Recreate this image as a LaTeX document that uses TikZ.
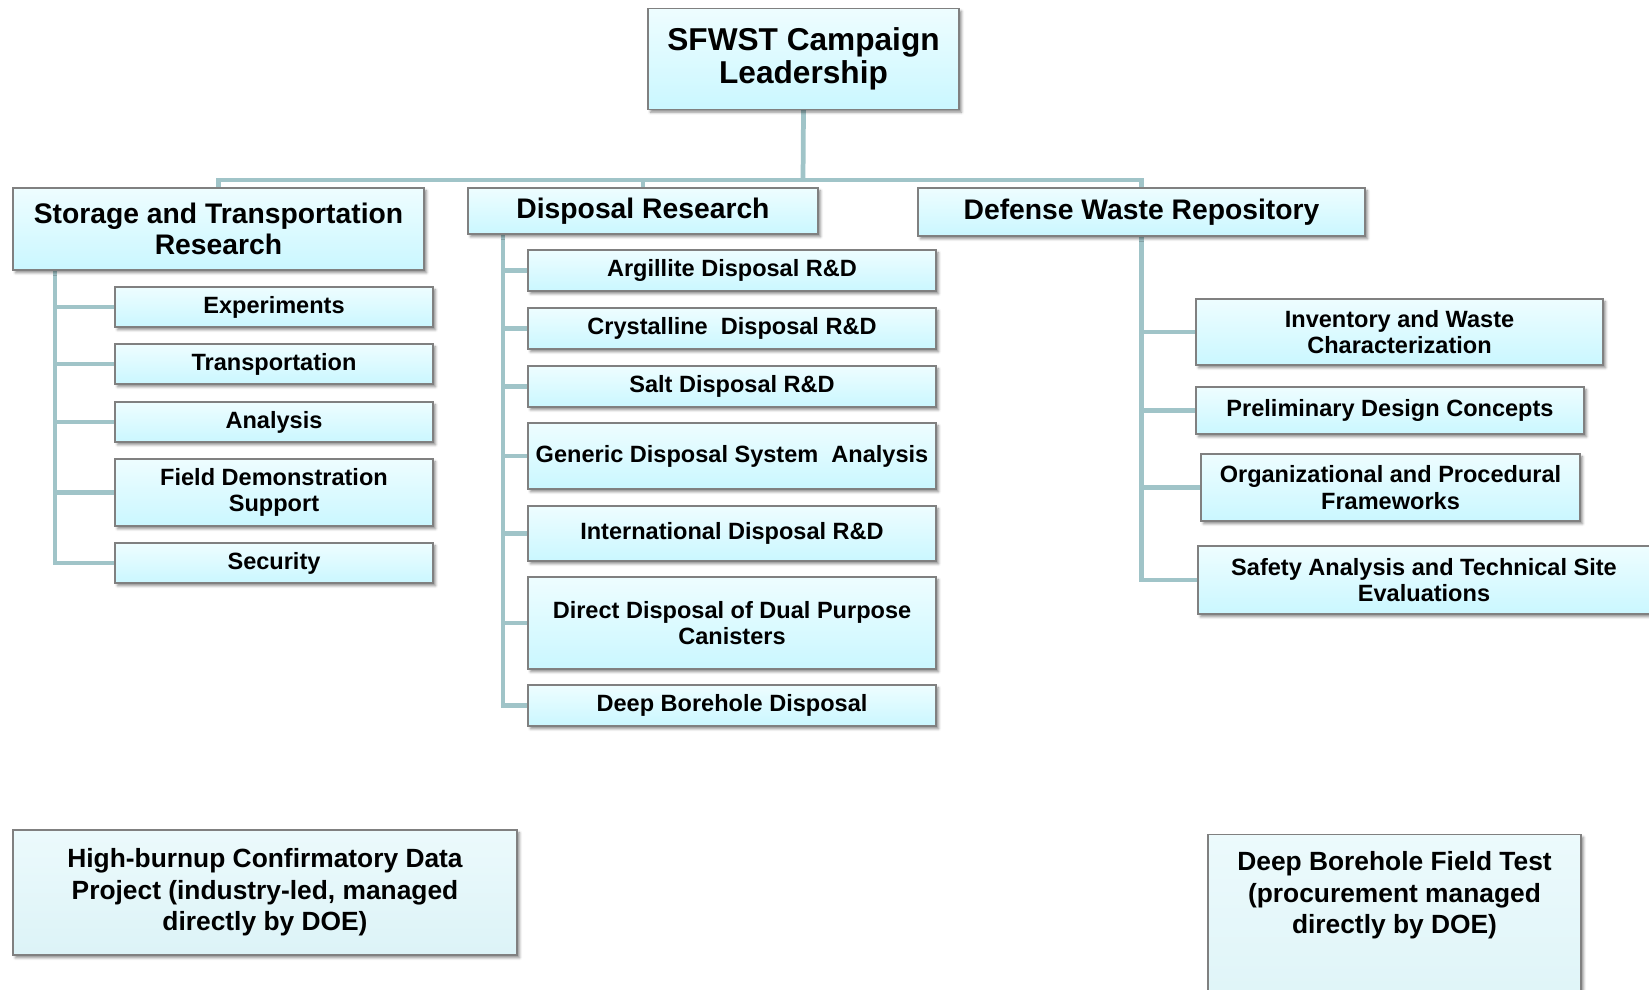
\documentclass[tikz,border=0pt]{standalone}
\usepackage{fontspec}
\setmainfont{Liberation Sans}
\usetikzlibrary{shadows.blur,backgrounds}
\definecolor{linkc}{RGB}{160,196,200}
\definecolor{boxline}{RGB}{128,128,128}
\definecolor{boxtop}{RGB}{238,253,255}
\definecolor{boxbot}{RGB}{202,247,255}
\definecolor{lowtop}{RGB}{236,250,252}
\definecolor{lowbot}{RGB}{220,243,247}

\begin{document}
\begin{tikzpicture}[x=0.02cm,y=-0.02cm,
  box/.style={draw=boxline,line width=0.6pt,top color=boxtop,bottom color=boxbot,
    align=center,inner sep=0pt,
    blur shadow={shadow xshift=1.4pt,shadow yshift=-1.6pt,shadow blur radius=1.5pt,shadow opacity=45}},
  sz/.style 2 args={minimum width=#1*0.02cm,minimum height=#2*0.02cm},
  head/.style={box,font=\fontsize{18}{19}\selectfont\bfseries},
  area/.style={box,font=\fontsize{16.1}{17.4}\selectfont\bfseries},
  item/.style={box,font=\fontsize{13.4}{15}\selectfont\bfseries},
  extra/.style={box,top color=lowtop,bottom color=lowbot,font=\fontsize{15}{18}\selectfont\bfseries},
  link/.style={draw=linkc,line width=2.7pt}]

 \useasboundingbox (0,0) rectangle (1649,990);

 % top and the three areas
 \node[head,sz={311}{101}] (lead) at (803.5,59) {SFWST Campaign\\Leadership};
 \node[area,sz={411}{82}]  (stor) at (218.5,229)  {Storage and Transportation\\Research};
 \node[area,sz={350}{46}]  (disp) at (643,211)    {Disposal Research};
 \node[area,sz={447}{48}]  (defw) at (1141.5,212) {Defense Waste Repository};

 % storage and transportation
 \node[item,sz={318}{40}] (exper) at (274,307)   {Experiments};
 \node[item,sz={318}{40}] (trans) at (274,364)   {Transportation};
 \node[item,sz={318}{40}] (anal)  at (274,422)   {Analysis};
 \node[item,sz={318}{67}] (field) at (274,492.5) {Field Demonstration\\Support};
 \node[item,sz={318}{40}] (secur) at (274,563)   {Security};

 % disposal research
 \node[item,sz={408}{41}] (argil) at (732,270.5) {Argillite Disposal R\&D};
 \node[item,sz={408}{41}] (cryst) at (732,328.5) {Crystalline\ \ Disposal R\&D};
 \node[item,sz={408}{41}] (salt)  at (732,386.5) {Salt Disposal R\&D};
 \node[item,sz={408}{66}] (gener) at (732,456)   {Generic Disposal System\ \ Analysis};
 \node[item,sz={408}{55}] (intl)  at (732,533.5) {International Disposal R\&D};
 \node[item,sz={408}{92}] (dualp) at (732,623)   {Direct Disposal of Dual Purpose\\Canisters};
 \node[item,sz={408}{41}] (dbore) at (732,705.5) {Deep Borehole Disposal};

 % defense waste repository
 \node[item,sz={407}{66}] (inven)  at (1399.5,332) {Inventory and Waste\\Characterization};
 \node[item,sz={388}{47}] (prelim) at (1390,410.5) {Preliminary Design Concepts};
 \node[item,sz={379}{67}] (organ)  at (1390.5,487.5) {Organizational and Procedural\\Frameworks};
 \node[item,sz={452}{68}] (safety) at (1424,580) {Safety Analysis and Technical Site\\Evaluations};

 % managed by DOE
 \node[extra,sz={504}{125}] (hbup) at (265,892.5)
   {High-burnup Confirmatory Data\\Project (industry-led, managed\\directly by DOE)};
 \node[extra,minimum width=373*0.02cm,inner ysep=0.34cm,anchor=north] (dbfield) at (1394.5,834)
   {Deep Borehole Field Test\\(procurement managed\\directly by DOE)\\\rule{0pt}{1.6cm}};

 \begin{scope}[on background layer]
  \coordinate (bar) at (803,180);
  \coordinate (sspine) at (55,270);
  \coordinate (dspine) at (503,234);
  \draw[link] (lead.south) -- (bar);
  \draw[link] (stor.north) |- (bar) -| (defw.north);
  \draw[link] (disp.north) -- (disp.north |- bar);
  \draw[link] (sspine) |- (secur.west);
  \foreach \n in {exper,trans,anal,field}
    \draw[link] (\n.west) -- (\n.west -| sspine);
  \draw[link] (dspine) |- (dbore.west);
  \foreach \n in {argil,cryst,salt,gener,intl,dualp}
    \draw[link] (\n.west) -- (\n.west -| dspine);
  \draw[link] (defw.south) |- (safety.west);
  \foreach \n in {inven,prelim,organ}
    \draw[link] (\n.west) -- (\n.west -| defw.south);
 \end{scope}

\end{tikzpicture}
\end{document}
